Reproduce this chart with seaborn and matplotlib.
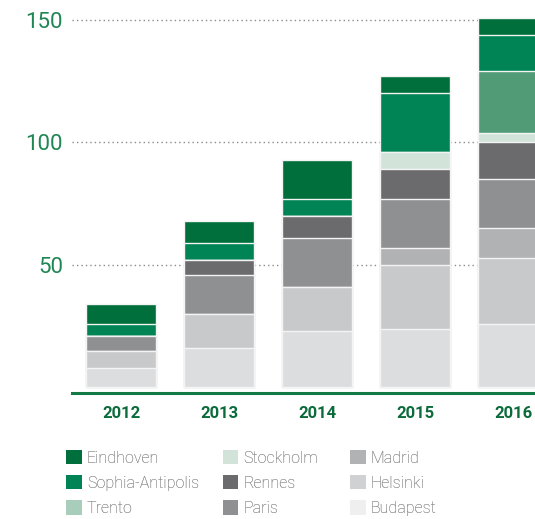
import matplotlib
matplotlib.use("Agg")
import matplotlib.pyplot as plt
from matplotlib.patches import Patch
import numpy as np
import pandas as pd
import seaborn as sns

years = ["2012", "2013", "2014", "2015", "2016"]
# stacked bottom -> top
cities = ["Budapest", "Helsinki", "Madrid", "Paris", "Rennes",
          "Stockholm", "Trento", "Sophia-Antipolis", "Eindhoven"]
budapest = [8, 16, 23, 24, 26]
helsinki = [7, 14, 18, 26, 27]
madrid = [0, 0, 0, 7, 12]
paris = [6, 16, 20, 20, 20]
rennes = [0, 6, 9, 12, 15]
stockholm = [0, 0, 0, 7, 4]
trento = [0, 0, 0, 0, 25]
sophia = [5, 7, 7, 24, 15]
eindhoven = [8, 9, 16, 7, 7]
values = [budapest, helsinki, madrid, paris, rennes, stockholm, trento, sophia, eindhoven]

bar_colors = {
    "Eindhoven": "#006f3b",
    "Sophia-Antipolis": "#008455",
    "Trento": "#519b77",
    "Stockholm": "#d2e4da",
    "Rennes": "#6b6b6d",
    "Paris": "#8f9092",
    "Madrid": "#b1b2b4",
    "Helsinki": "#c8c9cb",
    "Budapest": "#dcdddf",
}
legend_colors = {
    "Eindhoven": "#006f3b",
    "Sophia-Antipolis": "#008455",
    "Trento": "#a8cdba",
    "Stockholm": "#d2e4da",
    "Rennes": "#6b6b6d",
    "Paris": "#8f9092",
    "Madrid": "#b1b2b4",
    "Helsinki": "#d0d1d3",
    "Budapest": "#efefef",
}
legend_cols = [["Eindhoven", "Sophia-Antipolis", "Trento"],
               ["Stockholm", "Rennes", "Paris"],
               ["Madrid", "Helsinki", "Budapest"]]
yticks = [50, 100, 150]

sns.set_style("white")
plt.rcParams["font.family"] = ["Roboto", "DejaVu Sans"]

fig = plt.figure(figsize=(5.35, 5.19), dpi=100)
ax = fig.add_axes([72 / 535, 0.2426, 1 - 72 / 535, 0.7283])

cum = np.cumsum(np.array(values), axis=0)
for i in range(len(cities) - 1, -1, -1):
    df = pd.DataFrame({"year": years, "value": cum[i]})
    sns.barplot(data=df, x="year", y="value", order=years,
                color=bar_colors[cities[i]], saturation=1, width=0.72,
                edgecolor="#f4f4f4", linewidth=1.0, errorbar=None, ax=ax)

ax.set_xlim(-0.5, 4.224)
ax.set_ylim(-2.3, 152)
ax.set_xlabel("")
ax.set_ylabel("")
ax.set_yticks(yticks)
ax.set_yticklabels([str(v) for v in yticks], color="#1f8753", fontsize=16,
                   fontweight="normal")
ax.tick_params(axis="y", length=0, pad=6.5)
ax.tick_params(axis="x", length=0, pad=9)
for lab in ax.get_xticklabels():
    lab.set_fontweight("bold")
    lab.set_color("#0b6b3a")
    lab.set_fontsize(12)

ax.set_axisbelow(True)
ax.yaxis.grid(True, linestyle=(0, (1, 2.2)), color="#8a8a8a", linewidth=1.0)
ax.xaxis.grid(False)
for s in ["top", "right", "left"]:
    ax.spines[s].set_visible(False)
ax.spines["bottom"].set_color("#137a45")
ax.spines["bottom"].set_linewidth(2.2)

col_x = [66, 222.5, 350]
for cx, names in zip(col_x, legend_cols):
    handles = [Patch(facecolor=legend_colors[n], edgecolor="none", label=n) for n in names]
    leg = fig.legend(handles=handles, loc="upper left",
                     bbox_to_anchor=(cx / 535, 1 - 450 / 519),
                     frameon=False, fontsize=11.5, handlelength=1.0,
                     handleheight=1.0, handletextpad=0.3, labelspacing=0.6,
                     borderpad=0, borderaxespad=0)
    for t in leg.get_texts():
        t.set_color("#8c8c8c")
        t.set_fontweight("light")
    fig.add_artist(leg)

fig.savefig("out.png", dpi=100)
